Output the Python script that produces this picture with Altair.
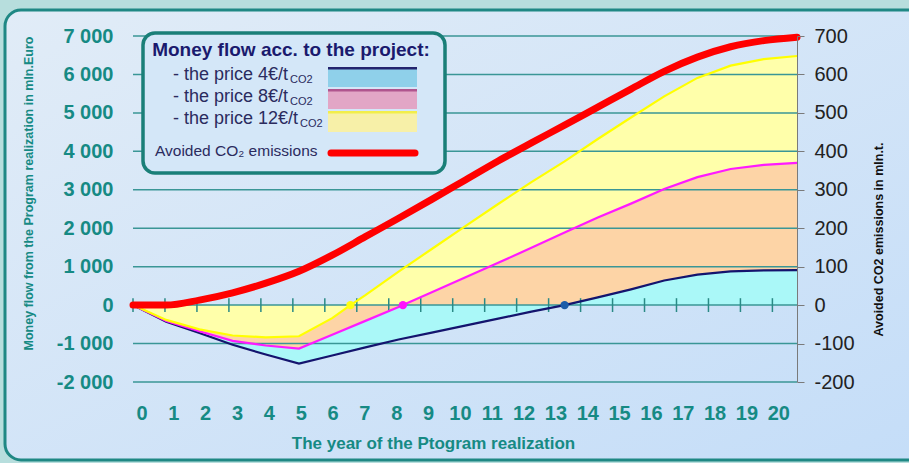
import altair as alt
import pandas as pd

# ---------------- data ----------------
years = list(range(21))
co2_avoided = [0, 0, 13, 32, 57, 88, 130, 178, 226, 275, 325, 375, 422, 468, 515, 562, 608, 645, 672, 688, 697]
flow_4 = [0, -430, -725, -1030, -1285, -1520, -1310, -1100, -895, -715, -535, -350, -170, 0, 200, 410, 640, 795, 875, 905, 910]
flow_8 = [0, -410, -680, -930, -1050, -1130, -770, -410, -47, 335, 720, 1100, 1490, 1888, 2280, 2640, 3020, 3330, 3540, 3650, 3700]
flow_12 = [0, -385, -630, -790, -840, -810, -340, 260, 870, 1460, 2050, 2630, 3200, 3740, 4320, 4880, 5430, 5910, 6230, 6400, 6480]
# break-even points (dots on the zero line)
breakeven = {"p4": 13.0, "p8": 8.13, "p12": 6.55}

year_labels = [str(i) for i in range(21)]
money_ticks = [-2000, -1000, 0, 1000, 2000, 3000, 4000, 5000, 6000, 7000]
co2_ticks = [-200, -100, 0, 100, 200, 300, 400, 500, 600, 700]

legend_title = "Money flow acc. to the project:"
legend_items = ["- the price 4€/t", "- the price 8€/t", "- the price 12€/t"]
legend_sub = "CO2"
co2_label = "Avoided CO₂ emissions"
x_title = "The year of the Ptogram realization"
left_title = "Money flow from the Program realization in mln.Euro"
right_title = "Avoided CO2 emissions in mln.t."

# ---------------- styling ----------------
FONT = "Liberation Sans"
TEAL = "#168a84"
W, H = 664, 346
PXY = W / 20.0

series = {"p4": flow_4, "p8": flow_8, "p12": flow_12}
line_col = {"p4": "#14146e", "p8": "#ff1aff", "p12": "#ffff00"}
fill_col = {"p4": "#aaf8f8", "p8": "#fdd4a6", "p12": "#ffffaa"}
dot_col = {"p4": "#1d5ca8", "p8": "#ff10ff", "p12": "#ffff10"}

rows = []
for key, vals in series.items():
    pts = list(zip(years, vals))
    be = breakeven[key]
    if be not in years:
        pts.append((be, 0))
    pts.sort()
    for yr, v in pts:
        rows.append({"year": yr, "value": v, "series": key,
                     "pos": max(v, 0), "neg": min(v, 0)})
flow_df = pd.DataFrame(rows)
co2_df = pd.DataFrame({"year": years, "co2": co2_avoided})
grid_df = pd.DataFrame({"v": money_ticks})
tick_df = pd.DataFrame({"t": [i * 31.97 / PXY for i in range(21)]})
dots_df = pd.DataFrame({"year": list(breakeven.values()), "v": [0, 0, 0],
                        "series": list(breakeven.keys())})
one = pd.DataFrame({"k": [0]})

money_scale = alt.Scale(domain=[-2000, 7000], nice=False, zero=False)
co2_scale = alt.Scale(domain=[-200, 700], nice=False, zero=False)
x_scale = alt.Scale(domain=[0, 20], nice=False, zero=False)

label_pos = [(8.5 + 31.84 * i) / PXY for i in range(len(year_labels))]

def X(field):
    return alt.X(field, scale=x_scale, axis=None)

layers = []

# panel background
panel_grad = alt.Gradient(gradient="linear",
                          stops=[alt.GradientStop(color="#e1ecf7", offset=0),
                                 alt.GradientStop(color="#c4ddf8", offset=1)],
                          x1=0, y1=0, x2=1, y2=1)
layers.append(alt.Chart(one).mark_rect(cornerRadius=16, fill=panel_grad, stroke="#1f8884", strokeWidth=3)
              .encode(x=alt.value(-128), x2=alt.value(820), y=alt.value(-26), y2=alt.value(424)))

def area(key, field):
    return (alt.Chart(flow_df).transform_filter(alt.datum.series == key)
            .mark_area(color=fill_col[key], interpolate="linear", opacity=1)
            .encode(x=X("year:Q"),
                    y=alt.Y(f"{field}:Q", scale=money_scale, axis=None, stack=None),
                    y2=alt.datum(0)))

for k in ["p12", "p8", "p4"]:
    layers.append(area(k, "pos"))
for k in ["p4", "p8", "p12"]:
    layers.append(area(k, "neg"))

# gridlines + left axis
layers.append(alt.Chart(grid_df).mark_rule(color="#3a9696", strokeWidth=1.5)
              .encode(y=alt.Y("v:Q", scale=money_scale,
                              axis=alt.Axis(orient="left", values=money_ticks, grid=False, ticks=False, domain=False,
                                            labelExpr="(datum.value < 0 ? '-' : '') + replace(format(abs(datum.value), ','), ',', ' ')",
                                            labelFont=FONT, labelFontSize=20, labelFontWeight="bold", labelColor=TEAL,
                                            labelPadding=20, title=left_title, titleFont=FONT, titleFontSize=12.5,
                                            titleFontWeight="bold", titleColor=TEAL, titleAngle=270, titleX=-105,
                                            titleY=157, titleAlign="center", titleBaseline="middle", zindex=1))))

# x axis (labels) + zero-line ticks
layers.append(alt.Chart(tick_df).mark_rule(color="#2a8a86", strokeWidth=1.5)
              .encode(x=alt.X("t:Q", scale=x_scale,
                              axis=alt.Axis(orient="bottom", values=label_pos,
                                            labelExpr="round((datum.value*%f - 8.5)/31.84)" % PXY,
                                            grid=False, ticks=False, domain=False, labelFont=FONT, labelFontSize=20,
                                            labelFontWeight="bold", labelColor=TEAL, labelPadding=21,
                                            title=x_title, titleFont=FONT, titleFontSize=17, titleFontWeight="bold",
                                            titleColor=TEAL, titleX=300, titleY=61, titleAlign="center",
                                            titleBaseline="middle", labelFlush=False, labelOverlap=False, zindex=1)),
                      y=alt.YDatum(-180, scale=money_scale, axis=None), y2=alt.datum(180)))

# money-flow lines
for k in ["p4", "p8", "p12"]:
    layers.append(alt.Chart(flow_df).transform_filter(alt.datum.series == k)
                  .mark_line(color=line_col[k], strokeWidth=2.2, interpolate="linear")
                  .encode(x=X("year:Q"), y=alt.Y("value:Q", scale=money_scale, axis=None)))

# break-even dots
layers.append(alt.Chart(dots_df).mark_circle(size=70, opacity=1)
              .encode(x=X("year:Q"), y=alt.Y("v:Q", scale=money_scale, axis=None),
                      color=alt.Color("series:N", scale=alt.Scale(domain=list(dot_col.keys()), range=list(dot_col.values())), legend=None)))

# CO2 line (right axis)
layers.append(alt.Chart(co2_df).mark_line(color="#ff0000", strokeWidth=7, interpolate="monotone", strokeCap="round")
              .encode(x=X("year:Q"),
                      y=alt.Y("co2:Q", scale=co2_scale,
                              axis=alt.Axis(orient="right", values=co2_ticks, grid=False, domain=True, domainColor="#7a7a7a",
                                            ticks=True, tickColor="#7a7a7a", tickSize=7,
                                            labelExpr="datum.value < 0 ? '-' + abs(datum.value) : '' + datum.value",
                                            labelFont=FONT, labelFontSize=20, labelColor="#222222", labelPadding=10,
                                            title=right_title, titleFont=FONT, titleFontSize=12.5, titleFontWeight="bold",
                                            titleColor="#111111", titleAngle=270, titleX=81, titleY=203,
                                            titleAlign="center", titleBaseline="middle", zindex=1))))

# ---------------- legend box ----------------
layers.append(alt.Chart(one).mark_rect(cornerRadius=12, fill="#d4e7f8", stroke="#1a7f78", strokeWidth=3.5)
              .encode(x=alt.value(10), x2=alt.value(312), y=alt.value(-3), y2=alt.value(137)))
layers.append(alt.Chart(one).mark_text(font=FONT, fontSize=19, fontWeight="bold", color="#1a1a6e", align="center", baseline="middle")
              .encode(x=alt.value(158), y=alt.value(14), text=alt.value(legend_title)))

row_y = [39, 61, 83]
sub_x = [157, 157, 167]
sw_fill = ["#8fd0ea", "#e2a6c6", "#f7f0a8"]
sw_top = ["#24246e", "#b0558e", "#f2ee4a"]
sw_y = [(31, 51), (53, 73), (75, 96)]
for i, lab in enumerate(legend_items):
    layers.append(alt.Chart(one).mark_text(font=FONT, fontSize=18, color="#2b2b5e", align="left", baseline="middle")
                  .encode(x=alt.value(40), y=alt.value(row_y[i]), text=alt.value(lab)))
    layers.append(alt.Chart(one).mark_text(font=FONT, fontSize=11, color="#2b2b5e", align="left", baseline="middle")
                  .encode(x=alt.value(sub_x[i]), y=alt.value(row_y[i] + 5), text=alt.value(legend_sub)))
    layers.append(alt.Chart(one).mark_rect(fill=sw_fill[i])
                  .encode(x=alt.value(195), x2=alt.value(284), y=alt.value(sw_y[i][0]), y2=alt.value(sw_y[i][1])))
    layers.append(alt.Chart(one).mark_rect(fill=sw_top[i])
                  .encode(x=alt.value(195), x2=alt.value(284), y=alt.value(sw_y[i][0]), y2=alt.value(sw_y[i][0] + 2.5)))

layers.append(alt.Chart(one).mark_text(font=FONT, fontSize=15.5, color="#2b2b5e", align="left", baseline="middle")
              .encode(x=alt.value(22), y=alt.value(115), text=alt.value(co2_label)))
layers.append(alt.Chart(one).mark_rule(color="#ff0000", strokeWidth=7, strokeCap="round")
              .encode(x=alt.value(198), x2=alt.value(282), y=alt.value(117)))

chart = (alt.layer(*layers)
         .resolve_scale(y="independent")
         .resolve_axis(x="independent")
         .properties(width=W, height=H, background="#b7dedd",
                     padding={"left": 133, "top": 36, "right": 112, "bottom": 81},
                     autosize=alt.AutoSizeParams(type="none"))
         .configure_view(strokeWidth=0))

chart.save("out.html", embed_options={"renderer": "svg", "actions": False})
